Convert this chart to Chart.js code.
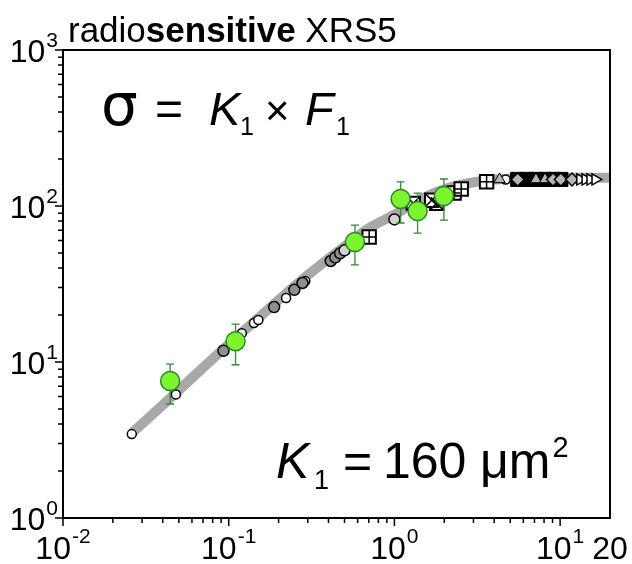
<!DOCTYPE html>
<html>
<head>
<meta charset="utf-8">
<script src="https://cdn.jsdelivr.net/npm/chart.js@4"></script>
<style>
  html, body { margin: 0; padding: 0; background: #fff; }
  #wrap { width: 632px; height: 564px; }
</style>
</head>
<body>
<div id="wrap"><canvas id="myChart" width="632" height="564"></canvas></div>
<script>
// fitted curve sigma = K1 x F1
const curveX = [0.026, 0.04, 0.06, 0.1, 0.15, 0.2, 0.3, 0.4, 0.5, 0.7, 1.0, 1.5, 2, 3, 4, 5, 7, 10, 15, 20];
const curveY = [3.5, 5.3, 7.9, 13, 19, 25, 36, 46, 55, 72, 88, 113, 128, 142, 148, 150, 152, 152, 152, 152];

// green points with error bars
const greenX = [0.0443, 0.110, 0.578, 1.09, 1.38, 1.99];
const greenY = [7.55, 13.6, 58.8, 111, 92.9, 116];
const greenLow = [5.38, 9.6, 41.9, 77.8, 67.1, 81.3];
const greenHigh = [9.7, 17.5, 75.5, 142.6, 121, 149];

// small open / grey markers
const whiteX = [0.026, 0.048, 0.12, 0.142, 0.151, 0.222, 0.29, 4.69];
const whiteY = [3.45, 6.2, 15.3, 17.8, 18.6, 25.7, 33, 148];
const greyX = [0.093, 0.188, 0.249, 0.279, 0.413, 0.44, 0.47];
const greyY = [11.8, 22.5, 29, 32.1, 44.4, 46.8, 49.7];
const lightX = [0.50, 1.0];
const lightY = [52, 82];
const plusX = [0.704, 2.29, 2.53, 3.6];
const plusY = [63.3, 121, 128.5, 143];
const xboxX = [1.3, 1.8, 1.68];
const xboxY = [104, 104, 109];
const boxX = [5.55, 6.29, 7.15, 8.11, 9.06, 10.1];
const boxY = [148, 148, 148, 148, 148, 148];
const diamondX = [5.55, 9.06, 10.1, 11.8];
const diamondY = [148, 148, 148, 148];
const triX = [4.31, 7.15, 8.11];
const triY = [148, 148, 148];
const chevX = [13.2, 14.2, 15.2, 16.3];
const chevY = [148, 148, 148, 148];

const xMajor = [0.01, 0.1, 1, 10];
const xMinor = [0.02, 0.03, 0.04, 0.05, 0.06, 0.07, 0.08, 0.09, 0.2, 0.3, 0.4, 0.5, 0.6, 0.7, 0.8, 0.9, 2, 3, 4, 5, 6, 7, 8, 9];
const yMajor = [1, 10, 100, 1000];
const yMinor = [2, 3, 4, 5, 6, 7, 8, 9, 20, 30, 40, 50, 60, 70, 80, 90, 200, 300, 400, 500, 600, 700, 800, 900];
const xLabels = [[0.01, '10', '-2'], [0.1, '10', '-1'], [1, '10', '0'], [10, '10', '1'], [20, '20', '']];
const yLabels = [[1, '10', '0'], [10, '10', '1'], [100, '10', '2'], [1000, '10', '3']];

const pts = (xs, ys) => xs.map((x, i) => ({ x: x, y: ys[i] }));
const FONT = '"Liberation Sans", Arial, sans-serif';
const BASE = '32px ' + FONT;
const SUP = '21px ' + FONT;

const decor = {
    id: 'decor',
    beforeDatasetDraw(chart, args) {
        if (args.index !== 0) return;
        const ctx = chart.ctx, xs = chart.scales.x, ys = chart.scales.y;
        ctx.save();
        ctx.strokeStyle = '#2e8b3a';
        ctx.lineWidth = 1.3;
        greenX.forEach((gx, i) => {
            const px = xs.getPixelForValue(gx);
            const lo = ys.getPixelForValue(greenLow[i]);
            const hi = ys.getPixelForValue(greenHigh[i]);
            ctx.beginPath();
            ctx.moveTo(px, lo); ctx.lineTo(px, hi);
            ctx.moveTo(px - 4, lo); ctx.lineTo(px + 4, lo);
            ctx.moveTo(px - 4, hi); ctx.lineTo(px + 4, hi);
            ctx.stroke();
        });
        ctx.restore();
    },
    afterDraw(chart) {
        const ctx = chart.ctx, a = chart.chartArea, xs = chart.scales.x, ys = chart.scales.y;
        ctx.save();
        // frame
        ctx.strokeStyle = '#000';
        ctx.lineWidth = 2;
        ctx.strokeRect(a.left, a.top, a.right - a.left, a.bottom - a.top);
        // ticks
        ctx.lineWidth = 1.5;
        ctx.beginPath();
        xMajor.forEach(v => { const p = xs.getPixelForValue(v); ctx.moveTo(p, a.bottom); ctx.lineTo(p, a.bottom + 8); });
        xMinor.forEach(v => { const p = xs.getPixelForValue(v); ctx.moveTo(p, a.bottom); ctx.lineTo(p, a.bottom + 5); });
        yMajor.forEach(v => { const p = ys.getPixelForValue(v); ctx.moveTo(a.left, p); ctx.lineTo(a.left - 8, p); });
        yMinor.forEach(v => { const p = ys.getPixelForValue(v); ctx.moveTo(a.left, p); ctx.lineTo(a.left - 5, p); });
        ctx.stroke();

        ctx.fillStyle = '#000';
        ctx.textBaseline = 'alphabetic';
        ctx.textAlign = 'left';
        // x tick labels
        xLabels.forEach(([v, base, sup]) => {
            ctx.font = BASE;
            const wb = ctx.measureText(base).width;
            ctx.font = SUP;
            const ws = sup ? ctx.measureText(sup).width + 1 : 0;
            const p = xs.getPixelForValue(v);
            const x0 = p - (wb + ws) / 2;
            ctx.font = BASE;
            ctx.fillText(base, x0, 559);
            ctx.font = SUP;
            ctx.fillText(sup, x0 + wb + 1, 543);
        });
        // y tick labels
        yLabels.forEach(([v, base, sup]) => {
            const p = ys.getPixelForValue(v);
            ctx.font = SUP;
            const ws = ctx.measureText(sup).width;
            ctx.fillText(sup, 58 - ws, p - 3);
            ctx.font = BASE;
            const wb = ctx.measureText(base).width;
            ctx.fillText(base, 58 - ws - 1 - wb, p + 12);
        });

        // title
        let tx = 68;
        const title = [['radio', ''], ['sensitive', 'bold '], [' XRS5', '']];
        title.forEach(([t, w]) => {
            ctx.font = w + '35px ' + FONT;
            ctx.fillText(t, tx, 42);
            tx += ctx.measureText(t).width;
        });

        // equation  sigma = K1 x F1
        ctx.font = '58px "DejaVu Sans", ' + FONT;
        ctx.fillText('\u03c3', 101, 125);
        ctx.font = '48px ' + FONT;
        ctx.fillText('=', 155, 125);
        ctx.font = 'italic 47px ' + FONT;
        ctx.fillText('K', 209, 125);
        ctx.font = '25px ' + FONT;
        ctx.fillText('1', 240, 135);
        ctx.font = '42px ' + FONT;
        ctx.fillText('\u00d7', 265, 125);
        ctx.font = 'italic 47px ' + FONT;
        ctx.fillText('F', 305, 125);
        ctx.font = '25px ' + FONT;
        ctx.fillText('1', 336, 135);

        // K1 = 160 um2
        ctx.font = 'italic 50px ' + FONT;
        ctx.fillText('K', 276, 478);
        ctx.font = '27px ' + FONT;
        ctx.fillText('1', 314, 489);
        ctx.font = '50px ' + FONT;
        ctx.fillText('=', 343, 478);
        ctx.fillText('160', 383, 478);
        ctx.fillText('\u03bcm', 480, 478);
        const wk = ctx.measureText('\u03bcm').width;
        ctx.font = '29px ' + FONT;
        ctx.fillText('2', 480 + wk + 2, 457);
        ctx.restore();
    }
};

const ctx = document.getElementById('myChart').getContext('2d');
const myChart = new Chart(ctx, {
    type: 'scatter',
    data: {
        datasets: [
            {
                label: 'green',
                data: pts(greenX, greenY),
                pointRadius: 9.5,
                pointBackgroundColor: '#7df52d',
                pointBorderColor: '#2a8a2a',
                pointBorderWidth: 1.5
            },
            {
                label: 'chev',
                data: pts(chevX, chevY),
                pointStyle: 'triangle',
                rotation: 90,
                pointRadius: 6.5,
                pointBackgroundColor: '#fff',
                pointBorderColor: '#000',
                pointBorderWidth: 1.5
            },
            {
                label: 'diamond',
                data: pts(diamondX, diamondY),
                pointStyle: 'rectRot',
                pointRadius: 6.5,
                pointBackgroundColor: '#b5b5b5',
                pointBorderColor: '#000',
                pointBorderWidth: 1.5
            },
            {
                label: 'tri',
                data: pts(triX, triY),
                pointStyle: 'triangle',
                pointRadius: 6.5,
                pointBackgroundColor: '#b5b5b5',
                pointBorderColor: '#000',
                pointBorderWidth: 1
            },
            {
                label: 'box',
                data: pts(boxX, boxY),
                pointStyle: 'rect',
                pointRadius: 10,
                pointBackgroundColor: '#000',
                pointBorderColor: '#000',
                pointBorderWidth: 1
            },
            {
                label: 'plusLines',
                data: pts(plusX, plusY),
                pointStyle: 'cross',
                pointRadius: 6.5,
                pointBorderColor: '#000',
                pointBorderWidth: 1.5
            },
            {
                label: 'plusBox',
                data: pts(plusX, plusY),
                pointStyle: 'rect',
                pointRadius: 9.5,
                pointBackgroundColor: '#fff',
                pointBorderColor: '#000',
                pointBorderWidth: 2
            },
            {
                label: 'xLines',
                data: pts(xboxX, xboxY),
                pointStyle: 'crossRot',
                pointRadius: 8.5,
                pointBorderColor: '#000',
                pointBorderWidth: 1.5
            },
            {
                label: 'xBox',
                data: pts(xboxX, xboxY),
                pointStyle: 'rect',
                pointRadius: 9.5,
                pointBackgroundColor: '#fff',
                pointBorderColor: '#000',
                pointBorderWidth: 2
            },
            {
                label: 'light',
                data: pts(lightX, lightY),
                pointRadius: 5.5,
                pointBackgroundColor: '#d2d2d2',
                pointBorderColor: '#000',
                pointBorderWidth: 1.5
            },
            {
                label: 'grey',
                data: pts(greyX, greyY),
                pointRadius: 5.5,
                pointBackgroundColor: '#8f8f8f',
                pointBorderColor: '#000',
                pointBorderWidth: 1.5
            },
            {
                label: 'white',
                data: pts(whiteX, whiteY),
                pointRadius: 4.5,
                pointBackgroundColor: '#fff',
                pointBorderColor: '#000',
                pointBorderWidth: 1.5
            },
            {
                label: 'curve',
                type: 'line',
                data: pts(curveX, curveY),
                borderColor: '#a8a8a8',
                borderWidth: 10,
                pointRadius: 0,
                showLine: true,
                fill: false,
                tension: 0.3,
                clip: 0
            }
        ]
    },
    options: {
        responsive: false,
        animation: false,
        layout: { padding: { left: 63, top: 50, right: 22, bottom: 46 } },
        scales: {
            x: { type: 'logarithmic', min: 0.01, max: 20, display: false },
            y: { type: 'logarithmic', min: 1, max: 1000, display: false }
        },
        plugins: {
            legend: { display: false },
            tooltip: { enabled: false }
        },
        events: []
    },
    plugins: [decor]
});
</script>
</body>
</html>
